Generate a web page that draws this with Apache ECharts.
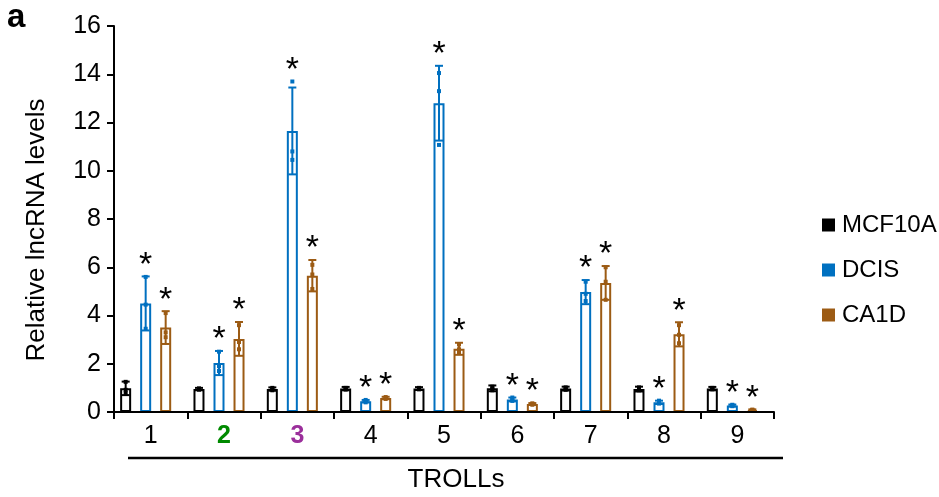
<!DOCTYPE html>
<html>
<head>
<meta charset="utf-8">
<script src="https://cdn.jsdelivr.net/npm/echarts@6/dist/echarts.min.js"></script>
<style>html,body{margin:0;padding:0;background:#fff}#c{width:939px;height:497px}</style>
</head>
<body>
<div id="c"></div>
<script>
const categories = ['1','2','3','4','5','6','7','8','9'];
const seriesNames = ['MCF10A','DCIS','CA1D'];
const yTicks = [0,2,4,6,8,10,12,14,16];

const mcfMean = [0.98, 0.95, 0.95, 0.97, 0.97, 0.98, 0.97, 0.95, 0.97];
const mcfErr  = [0.28, 0.05, 0.07, 0.07, 0.06, 0.12, 0.08, 0.10, 0.07];
const mcfPts  = [[1.25,0.92,0.78],[0.98,0.94,0.93],[1.0,0.95,0.9],[1.0,0.98,0.93],[1.0,0.97,0.94],[1.05,0.98,0.9],[1.02,0.97,0.92],[1.02,0.93,0.9],[1.0,0.97,0.94]];

const dcisMean = [4.50, 2.03, 11.65, 0.45, 12.80, 0.52, 4.97, 0.40, 0.27];
const dcisErr  = [1.12, 0.50, 1.80, 0.05, 1.55, 0.08, 0.50, 0.07, 0.04];
const dcisPts  = [[5.6,4.45,3.45],[2.5,1.9,1.7],[13.7,10.8,10.45],[0.5,0.45,0.4],[14.05,13.3,11.07],[0.6,0.5,0.46],[5.4,4.9,4.6],[0.47,0.38,0.35],[0.3,0.27,0.24]];

const ca1dMean = [3.50, 3.03, 5.65, 0.58, 2.62, 0.33, 5.35, 3.22, 0.08];
const ca1dErr  = [0.68, 0.70, 0.65, 0.05, 0.25, 0.04, 0.70, 0.50, 0.03];
const ca1dPts  = [[4.1,3.3,3.1],[3.6,2.9,2.6],[6.1,5.7,5.1],[0.62,0.58,0.54],[2.8,2.6,2.45],[0.36,0.33,0.3],[6.0,5.4,4.65],[3.6,3.2,2.85],[0.1,0.08,0.06]];

const significant = [
  [false,false,false,false,false,false,false,false,false],
  [true,true,true,true,true,true,true,true,true],
  [true,true,true,true,true,true,true,true,true]
];

const colors = ['#000000','#0070C0','#9C5B14'];
const means = [mcfMean, dcisMean, ca1dMean];
const errs = [mcfErr, dcisErr, ca1dErr];
const pts = [mcfPts, dcisPts, ca1dPts];
const offsets = [-20, 0, 20];
const FONT = '"Liberation Sans", Arial, sans-serif';

const chart = echarts.init(document.getElementById('c'), null, {renderer:'canvas'});

const series = [];
seriesNames.forEach((name, s) => {
  series.push({
    name: name,
    type: 'bar',
    xAxisIndex: 1, yAxisIndex: 1,
    barWidth: 11,
    barGap: '82%',
    data: means[s],
    itemStyle: {color: '#ffffff', borderColor: colors[s], borderWidth: 2},
    emphasis: {disabled: true},
    silent: true,
    z: 2
  });
});
seriesNames.forEach((name, s) => {
  const data = categories.map((c, i) => [i, means[s][i], errs[s][i], pts[s][i][0], pts[s][i][1], pts[s][i][2], significant[s][i] ? 1 : 0]);
  series.push({
    type: 'custom',
    xAxisIndex: 1, yAxisIndex: 1,
    silent: true,
    z: 3,
    data: data,
    renderItem: function (params, api) {
      const i = api.value(0), m = api.value(1), e = api.value(2);
      const cx = api.coord([i, 0])[0] + offsets[s];
      const yT = api.coord([i, m + e])[1];
      const yB = api.coord([i, Math.max(0, m - e)])[1];
      const children = [];
      const st = {stroke: colors[s], lineWidth: 2};
      children.push({type:'line', shape:{x1:cx, y1:yT, x2:cx, y2:yB}, style: st});
      children.push({type:'line', shape:{x1:cx-4, y1:yT, x2:cx+4, y2:yT}, style: st});
      children.push({type:'line', shape:{x1:cx-4, y1:yB, x2:cx+4, y2:yB}, style: st});
      let top = yT;
      for (let k = 3; k <= 5; k++) {
        const py = api.coord([i, api.value(k)])[1];
        top = Math.min(top, py);
        children.push({type:'rect', shape:{x:cx-2, y:py-2, width:4, height:4}, style:{fill: colors[s]}});
      }
      if (api.value(6) === 1) {
        children.push({type:'text', x: cx, y: top + 6, style:{text:'*', fill:'#000', font:'34px ' + FONT, align:'center', verticalAlign:'bottom'}});
      }
      return {type:'group', children: children};
    }
  });
});

const option = {
  animation: false,
  backgroundColor: '#ffffff',
  textStyle: {fontFamily: FONT},
  graphic: [
    {type:'text', left: 7, top: 1, style:{text:'a', font:'bold 33px ' + FONT, fill:'#000'}},
    {type:'line', shape:{x1:128, y1:458, x2:783, y2:458}, style:{stroke:'#000', lineWidth:2.5}},
    {type:'text', x: 456, y: 480, style:{text:'TROLLs', font:'26px ' + FONT, fill:'#000', align:'center', verticalAlign:'middle'}}
  ],
  legend: {
    orient: 'vertical',
    left: 817, top: 208,
    itemWidth: 13, itemHeight: 13, itemGap: 21,
    icon: 'rect',
    textStyle: {fontSize: 24, color: '#000', lineHeight: 24, padding: [0,0,0,2]},
    data: seriesNames.map((n, s) => ({name: n, itemStyle: {color: colors[s], borderWidth: 0}}))
  },
  grid: [
    {left: 114, width: 660, top: 26, height: 386},
    {left: 109, width: 660, top: 26, height: 386}
  ],
  xAxis: [
    {
      type: 'category', gridIndex: 0, data: categories,
      axisLine: {lineStyle: {color: '#000', width: 2}},
      axisTick: {show: true, length: 7, lineStyle: {color: '#000', width: 2}},
      axisLabel: {
        margin: 12, fontSize: 25, color: '#000',
        formatter: function (v) { return v === '2' ? '{g|2}' : (v === '3' ? '{p|3}' : v); },
        rich: {
          g: {color: '#008A00', fontWeight: 'bold', fontSize: 25},
          p: {color: '#9B2F9B', fontWeight: 'bold', fontSize: 25}
        }
      },
      z: 5
    },
    {type: 'category', gridIndex: 1, data: categories, show: false}
  ],
  yAxis: [
    {
      type: 'value', gridIndex: 0, min: 0, max: 16, interval: 2,
      name: 'Relative lncRNA levels', nameLocation: 'middle', nameGap: 64,
      nameTextStyle: {fontSize: 26, color: '#000', padding: [0, 22, 0, 0]},
      axisLine: {show: true, lineStyle: {color: '#000', width: 2}},
      axisTick: {show: true, length: 7, lineStyle: {color: '#000', width: 2}},
      axisLabel: {fontSize: 25, color: '#000', margin: 13, formatter: v => yTicks.includes(v) ? String(v) : ''},
      splitLine: {show: false},
      z: 5
    },
    {type: 'value', gridIndex: 1, min: 0, max: 16, interval: 2, show: false, splitLine: {show: false}}
  ],
  series: series
};
chart.setOption(option);
</script>
</body>
</html>
